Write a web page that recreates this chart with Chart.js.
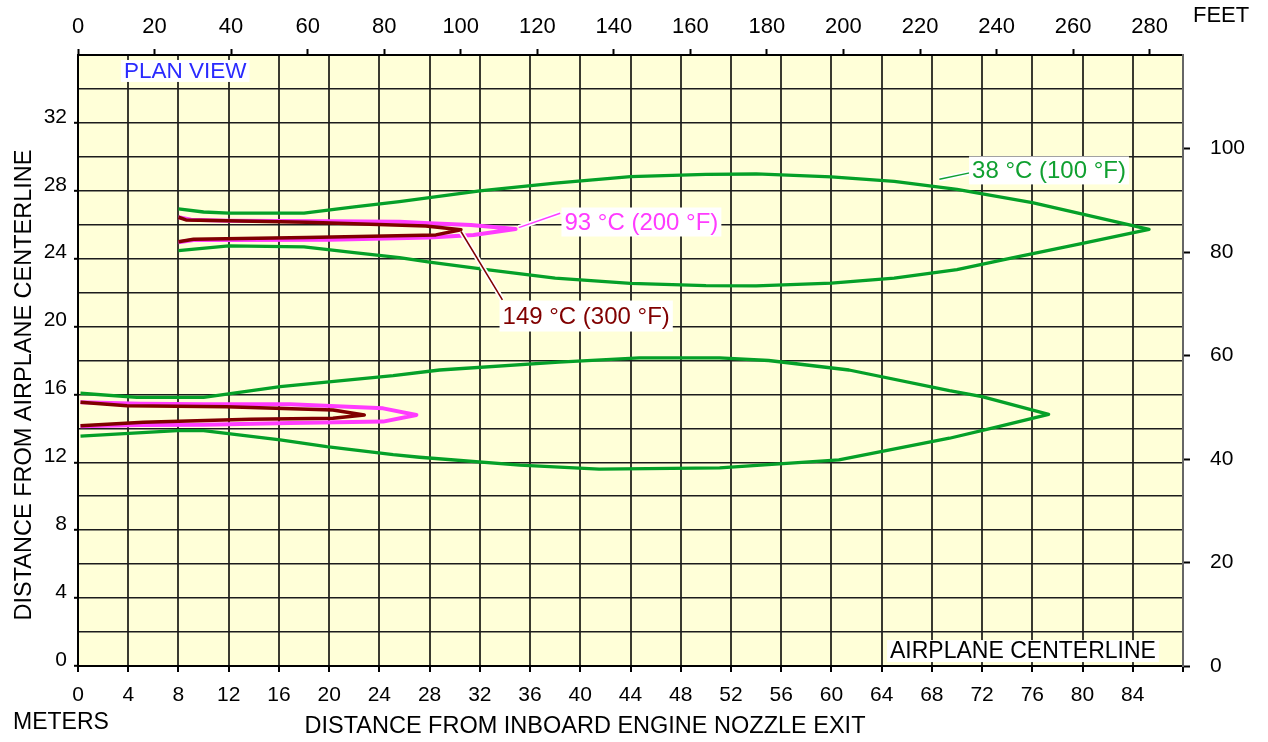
<!DOCTYPE html>
<html>
<head>
<meta charset="utf-8">
<script src="https://cdn.jsdelivr.net/npm/chart.js@4"></script>
<style>
    body { margin: 0; background: #fff; }
</style>
</head>
<body>
<canvas id="plumeChart" width="1268" height="742"></canvas>
<script>
const FT_PER_M = 3.28084;
const FONT = "'Liberation Sans', Arial, sans-serif";

// axis ranges (meters)
const xMaxM = 88;
const yMaxM = 36;

// upper engine, 38 C (100 F) contour
const upper38X = [8, 10, 12, 18, 22, 25.6, 32, 38, 44, 50, 54, 60, 65, 70, 76, 85.3,
                  80, 74.4, 70, 65, 60, 54, 50, 44, 38, 32.7, 28, 25.6, 22, 18, 12, 8];
const upper38Y = [26.93, 26.75, 26.68, 26.68, 27.05, 27.36, 28.0, 28.45, 28.83, 28.97, 28.99, 28.82, 28.55, 28.08, 27.3, 25.73,
                  24.9, 24.04, 23.35, 22.85, 22.56, 22.4, 22.41, 22.55, 22.85, 23.34, 23.8, 24.06, 24.35, 24.7, 24.75, 24.47];

// upper engine, 93 C (200 F) contour
const upper93X = [8, 9, 12, 20, 25.6, 28, 31.3, 34.85, 31.5, 28, 20, 12, 9.2, 8];
const upper93Y = [26.44, 26.3, 26.24, 26.2, 26.18, 26.08, 25.99, 25.75, 25.4, 25.25, 25.12, 25.1, 25.1, 24.97];

// upper engine, 149 C (300 F) contour
const upper149X = [8, 8.6, 18.2, 27.7, 30.5, 28.5, 18.2, 9.2, 8];
const upper149Y = [26.44, 26.28, 26.14, 25.93, 25.7, 25.4, 25.24, 25.14, 25.0];

// lower engine, 38 C (100 F) contour
const lower38X = [0.2, 4.7, 10, 16.1, 25.1, 28.8, 38.3, 44.7, 51.1, 55, 61.4, 69.4, 72, 77.3,
                  73.3, 69.4, 60.6, 51.1, 41.5, 35.2, 27.2, 25.1, 19.8, 16.1, 10, 7.9, 0.2];
const lower38Y = [16.07, 15.83, 15.83, 16.46, 17.11, 17.44, 17.9, 18.15, 18.15, 18.0, 17.44, 16.22, 15.87, 14.83,
                  14.1, 13.42, 12.14, 11.67, 11.6, 11.84, 12.3, 12.45, 12.92, 13.32, 13.87, 13.87, 13.55];

// lower engine, 93 C (200 F) contour
const lower93X = [0.2, 5, 10, 16.9, 24.3, 26.95, 24.3, 16.9, 10, 5, 0.2];
const lower93Y = [15.54, 15.45, 15.42, 15.42, 15.18, 14.79, 14.4, 14.32, 14.22, 14.2, 14.12];

// lower engine, 149 C (300 F) contour
const lower149X = [0.2, 3.9, 11.8, 20.3, 22.8, 20.3, 13.7, 5.2, 0.2];
const lower149Y = [15.54, 15.34, 15.28, 15.08, 14.79, 14.6, 14.54, 14.36, 14.16];

// label text and callouts (meters)
const notes = [
    { text: 'PLAN VIEW', x: 3.66, y: 35.06, color: '#2a2aff', size: 22.5, box: 11 },
    { text: '93 \u00B0C (200 \u00B0F)', x: 38.74, y: 26.16, color: '#ff3cff', size: 24, box: 14.5 },
    { text: '149 \u00B0C (300 \u00B0F)', x: 33.81, y: 20.62, color: '#800000', size: 24, box: 15.5 },
    { text: '38 \u00B0C (100 \u00B0F)', x: 71.2, y: 29.2, color: '#10a030', size: 24, box: 14 },
    { text: 'AIRPLANE CENTERLINE', x: 85.84, y: 0.88, color: '#000', size: 23, box: 11, align: 'right' }
];
const leaders = [
    { from: [35.1, 25.83], to: [38.4, 26.68], color: '#ff3cff' },
    { from: [30.5, 25.6], to: [33.8, 21.57], color: '#800000' },
    { from: [68.6, 28.68], to: [71.1, 29.07], color: '#10a030' }
];

const GREEN = '#05a028';
const PINK = '#ff3cff';
const MAROON = '#800000';

function pts(xs, ys) {
    return xs.map((x, i) => ({ x: x, y: ys[i] }));
}

function contour(label, xs, ys, color, width) {
    return {
        label: label,
        data: pts(xs, ys),
        showLine: true,
        borderColor: color,
        backgroundColor: color,
        borderWidth: width,
        borderJoinStyle: 'round',
        pointRadius: 0,
        fill: false,
        tension: 0
    };
}

const paperPlugin = {
    id: 'paper',
    beforeDraw(chart) {
        const { ctx, chartArea: a } = chart;
        ctx.save();
        ctx.fillStyle = '#ffffd8';
        ctx.fillRect(a.left, a.top, a.right - a.left, a.bottom - a.top);
        ctx.restore();
    },
    afterDatasetsDraw(chart) {
        const ctx = chart.ctx;
        const xs = chart.scales.x, ys = chart.scales.y;
        const px = v => xs.getPixelForValue(v);
        const py = v => ys.getPixelForValue(v);

        // callout lines with a white halo
        leaders.forEach(l => {
            ctx.save();
            ctx.beginPath();
            ctx.moveTo(px(l.from[0]), py(l.from[1]));
            ctx.lineTo(px(l.to[0]), py(l.to[1]));
            ctx.strokeStyle = '#fff';
            ctx.lineWidth = 5;
            ctx.stroke();
            ctx.strokeStyle = l.color;
            ctx.lineWidth = 1.5;
            ctx.stroke();
            ctx.restore();
        });

        // boxed labels
        notes.forEach(n => {
            ctx.save();
            ctx.font = `${n.size}px ${FONT}`;
            const w = ctx.measureText(n.text).width;
            let x = px(n.x);
            const y = py(n.y);
            if (n.align === 'right') x -= w;
            ctx.fillStyle = '#fff';
            ctx.fillRect(x - 3, y - n.box, w + 6, n.box * 2);
            ctx.fillStyle = n.color;
            ctx.textBaseline = 'middle';
            ctx.fillText(n.text, x, y + 1);
            ctx.restore();
        });
    },
    afterDraw(chart) {
        const ctx = chart.ctx;
        ctx.save();
        ctx.fillStyle = '#000';
        ctx.textBaseline = 'middle';

        ctx.font = `23.5px ${FONT}`;
        ctx.textAlign = 'center';
        ctx.fillText('DISTANCE FROM INBOARD ENGINE NOZZLE EXIT', 585, 727);

        ctx.font = `23px ${FONT}`;
        ctx.textAlign = 'left';
        ctx.fillText('METERS', 13, 723);
        ctx.font = `22px ${FONT}`;
        ctx.fillText('FEET', 1193, 16);

        ctx.translate(25, 385);
        ctx.rotate(-Math.PI / 2);
        ctx.font = `23.5px ${FONT}`;
        ctx.textAlign = 'center';
        ctx.fillText('DISTANCE FROM AIRPLANE CENTERLINE', 0, 0);
        ctx.restore();
    }
};

Chart.defaults.color = '#000';
Chart.defaults.font.family = FONT;
Chart.defaults.font.size = 21;

const tickFont = { family: FONT, size: 21 };
const isMajorY = v => v % 4 === 0 && v < yMaxM;

new Chart(document.getElementById('plumeChart'), {
    type: 'scatter',
    data: {
        datasets: [
            contour('149 C upper', upper149X, upper149Y, MAROON, 3.5),
            contour('149 C lower', lower149X, lower149Y, MAROON, 3.5),
            contour('93 C upper', upper93X, upper93Y, PINK, 4),
            contour('93 C lower', lower93X, lower93Y, PINK, 4),
            contour('38 C upper', upper38X, upper38Y, GREEN, 3.3),
            contour('38 C lower', lower38X, lower38Y, GREEN, 3.3)
        ]
    },
    options: {
        responsive: false,
        animation: false,
        devicePixelRatio: 1,
        layout: { padding: 0 },
        plugins: {
            legend: { display: false },
            tooltip: { enabled: false }
        },
        scales: {
            x: {
                type: 'linear',
                position: 'bottom',
                min: 0,
                max: xMaxM,
                afterFit: s => { s.height = 76; },
                border: { color: '#000', width: 2 },
                grid: { color: '#3a3a30', lineWidth: 2, tickLength: 6, tickColor: '#000', tickWidth: 2 },
                ticks: {
                    stepSize: 4, padding: 11, maxRotation: 0, autoSkip: false, font: tickFont,
                    callback: v => (v <= 84 ? v : '')
                }
            },
            y: {
                type: 'linear',
                position: 'left',
                min: 0,
                max: yMaxM,
                afterFit: s => { s.width = 78; },
                border: { color: '#000', width: 2 },
                grid: {
                    color: '#1c1c1c', lineWidth: 1.6, tickLength: 4, tickWidth: 2,
                    tickColor: c => (c.tick && isMajorY(c.tick.value) ? '#000' : 'rgba(0,0,0,0)')
                },
                ticks: {
                    stepSize: 2, padding: 7, labelOffset: -6, autoSkip: false, font: tickFont,
                    callback: v => (isMajorY(v) ? v : '')
                }
            },
            x2: {
                type: 'linear',
                position: 'top',
                min: 0,
                max: xMaxM * FT_PER_M,
                afterFit: s => { s.height = 55; },
                border: { color: '#000', width: 2 },
                grid: { drawOnChartArea: false, tickLength: 6, tickColor: '#000', tickWidth: 2 },
                ticks: { stepSize: 20, includeBounds: false, padding: 9, maxRotation: 0, autoSkip: false, font: { family: FONT, size: 22 } }
            },
            y2: {
                type: 'linear',
                position: 'right',
                min: 0,
                max: yMaxM * FT_PER_M,
                afterFit: s => { s.width = 85; },
                border: { color: '#666', width: 2 },
                grid: { drawOnChartArea: false, tickLength: 7, tickColor: '#000', tickWidth: 2 },
                ticks: { stepSize: 20, includeBounds: false, padding: 20, autoSkip: false, font: tickFont }
            }
        }
    },
    plugins: [paperPlugin]
});
</script>
</body>
</html>
